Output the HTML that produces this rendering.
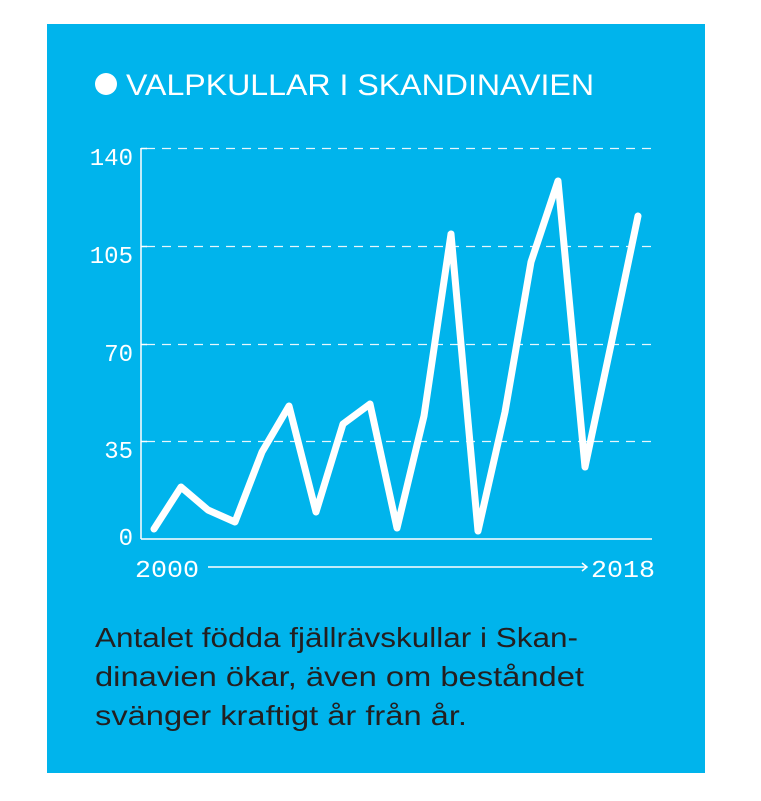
<!DOCTYPE html>
<html><head><meta charset="utf-8"><style>
html,body{margin:0;padding:0;background:#fff;}
svg{display:block;}
</style></head><body>
<svg width="761" height="801" viewBox="0 0 761 801" xmlns="http://www.w3.org/2000/svg">
<rect x="47" y="24" width="658" height="749" fill="#00b4ec"/>
<circle cx="106" cy="84" r="11" fill="#fff"/>
<text x="126" y="95" font-family="Liberation Sans, sans-serif" font-size="30" fill="#fff" textLength="468" lengthAdjust="spacingAndGlyphs">VALPKULLAR I SKANDINAVIEN</text>
<g stroke="#fff" stroke-width="1.3" stroke-dasharray="9,7" opacity="0.9">
<line x1="146" y1="148.5" x2="652" y2="148.5"/>
<line x1="146" y1="246.5" x2="652" y2="246.5"/>
<line x1="146" y1="344.5" x2="652" y2="344.5"/>
<line x1="146" y1="441.5" x2="652" y2="441.5"/>
</g>
<g stroke="#fff" stroke-width="1.5">
<line x1="141" y1="148" x2="141" y2="539"/>
<line x1="141" y1="539" x2="652" y2="539"/>
<line x1="141" y1="148.5" x2="147" y2="148.5"/>
<line x1="141" y1="246.5" x2="147" y2="246.5"/>
<line x1="141" y1="344.5" x2="147" y2="344.5"/>
<line x1="141" y1="441.5" x2="147" y2="441.5"/>
</g>
<g font-family="Liberation Mono, monospace" font-size="24" fill="#fff" text-anchor="end">
<text x="133" y="165">140</text>
<text x="133" y="263">105</text>
<text x="133" y="361">70</text>
<text x="133" y="458">35</text>
<text x="133" y="545">0</text>
</g>
<g font-family="Liberation Mono, monospace" font-size="24" fill="#fff">
<text x="135" y="577" textLength="64" lengthAdjust="spacingAndGlyphs">2000</text>
<text x="591" y="577" textLength="64" lengthAdjust="spacingAndGlyphs">2018</text>
</g>
<line x1="208" y1="567" x2="587" y2="567" stroke="#fff" stroke-width="1.5"/>
<polyline points="582,563 587,567 582,571" fill="none" stroke="#fff" stroke-width="1.5"/>
<polyline fill="none" stroke="#fff" stroke-width="7" stroke-linejoin="round" stroke-linecap="round"
points="154,529 181,487 208,510 235,522 262,452 289,406 316,512 343,424 370,404 397,528 424,416 451,234 478,531 505,412 531,262 558,181 585,467 612,340 638,216"/>
<g font-family="Liberation Sans, sans-serif" font-size="28" fill="#231f20">
<text x="95" y="647" textLength="483" lengthAdjust="spacingAndGlyphs">Antalet födda fjällrävskullar i Skan-</text>
<text x="95" y="686" textLength="489" lengthAdjust="spacingAndGlyphs">dinavien ökar, även om beståndet</text>
<text x="95" y="725" textLength="372" lengthAdjust="spacingAndGlyphs">svänger kraftigt år från år.</text>
</g>
</svg>
</body></html>
